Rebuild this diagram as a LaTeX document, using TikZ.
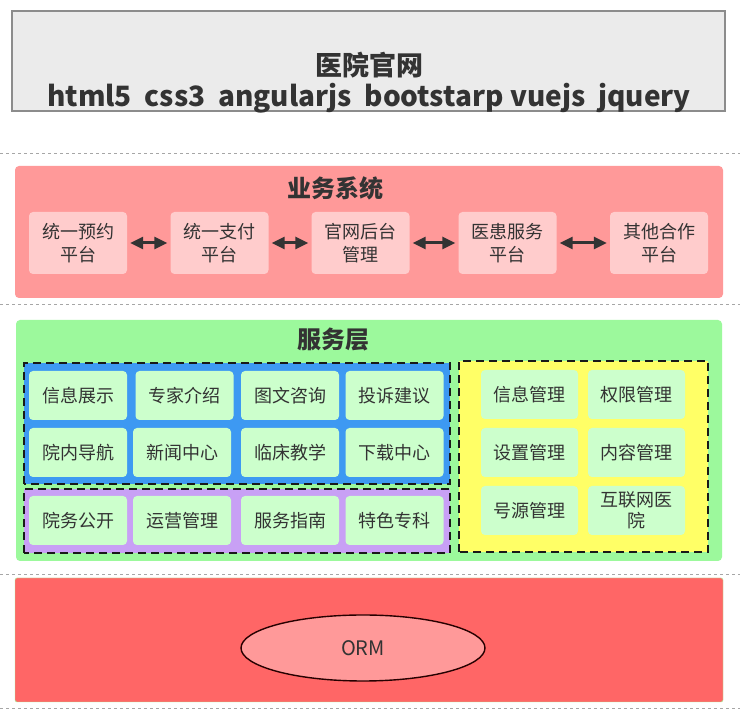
\documentclass[tikz,border=0pt]{standalone}
\usepackage{fontspec}
\setmainfont{Noto Sans CJK SC}
\usetikzlibrary{arrows.meta,positioning,shapes.geometric}

\begin{document}
\begin{tikzpicture}[x=1pt,y=1pt]
\definecolor{web fill}{HTML}{EBEBEB}
\definecolor{web edge}{HTML}{8C8C8C}
\definecolor{biz fill}{HTML}{FF9999}
\definecolor{biz item}{HTML}{FFCCCC}
\definecolor{svc fill}{HTML}{9CF99C}
\definecolor{svc item}{HTML}{CCFFCC}
\definecolor{svc blue}{HTML}{3D99F2}
\definecolor{svc purple}{HTML}{C8A0F5}
\definecolor{svc yellow}{HTML}{FFFF66}
\definecolor{orm fill}{HTML}{FF6666}
\definecolor{orm item}{HTML}{FF9999}
\definecolor{ink}{HTML}{333333}
\tikzset{
     layer/.style={rounded corners=4pt},
     title/.style={font=\bfseries\fontsize{24}{28}\selectfont, text=ink},
     bizbox/.style={fill=biz item, rounded corners=4pt, minimum width=98pt, minimum height=62pt,
       align=center, text=ink, font=\fontsize{18}{23}\selectfont},
     svcbox/.style={fill=svc item, rounded corners=4pt, minimum width=98pt, minimum height=49pt,
       align=center, text=ink, font=\fontsize{18}{21}\selectfont},
     group/.style={draw=black!90, line width=2pt, dash pattern=on 8pt off 5pt},
     split/.style={draw=gray!70, dashed, thin},
     link/.style={{Triangle[length=13pt,width=12pt]}-{Triangle[length=13pt,width=12pt]},
       line width=3pt, draw=ink, shorten <=3pt, shorten >=3pt}}

\useasboundingbox (0,0) rectangle (740,720);
\fill[white] (0,0) rectangle (740,720);

% The separators
\foreach \y in {567,416,146,12}
  \draw[split] (0,\y) -- (740,\y);

% The website
\draw[fill=web fill, draw=web edge, line width=1.5pt] (12,609) rectangle (725,709);
\node (webname) [title, font=\bfseries\fontsize{27}{30}\selectfont] at (369,655) {医院官网};
\node (webtech) [title, font=\bfseries\fontsize{28}{30}\selectfont] at (369,622)
  {html5\ \ css3\ \ angularjs\ \ bootstarp vuejs\ \ jquery};

% The business systems
\fill[biz fill, layer] (15,422) rectangle (723,554);
\node (biztitle) [title] at (335,532) {业务系统};
\node (booking) [bizbox] at (78,477)    {统一预约\\平台};
\node (payment) [bizbox] at (219.5,477) {统一支付\\平台};
\node (backend) [bizbox] at (360.5,477) {官网后台\\管理};
\node (patient) [bizbox] at (507.5,477) {医患服务\\平台};
\node (partner) [bizbox] at (659,477)   {其他合作\\平台};
\foreach \a/\b in {booking/payment,payment/backend,backend/patient,patient/partner}
  \draw[link] (\a.east) -- (\b.west);

% The service layer
\fill[svc fill, layer] (16,159) rectangle (722,400);
\node (svctitle) [title] at (333,380) {服务层};

\draw[group, fill=svc blue] (24,236) rectangle (450,357);
\draw[group, fill=svc purple] (24,167) rectangle (450,231);
\draw[group, fill=svc yellow] (459,168) rectangle (708,359);

\node (infoshow)  [svcbox] at (78,324.5)    {信息展示};
\node (experts)   [svcbox] at (184.5,324.5) {专家介绍};
\node (consult)   [svcbox] at (290,324.5)   {图文咨询};
\node (complain)  [svcbox] at (394.5,324.5) {投诉建议};
\node (guide)     [svcbox] at (78,267.5)    {院内导航};
\node (news)      [svcbox] at (182,267.5)   {新闻中心};
\node (teaching)  [svcbox] at (290,267.5)   {临床教学};
\node (download)  [svcbox] at (394.5,267.5) {下载中心};

\node (affairs)   [svcbox] at (78,199.5)    {院务公开};
\node (operation) [svcbox] at (182,199.5)   {运营管理};
\node (svcguide)  [svcbox] at (290,199.5)   {服务指南};
\node (special)   [svcbox] at (394.5,199.5) {特色专科};

\node (infomgr)   [svcbox, minimum width=97pt] at (529.5,325.5) {信息管理};
\node (rightmgr)  [svcbox, minimum width=97pt] at (636.5,325.5) {权限管理};
\node (setmgr)    [svcbox, minimum width=97pt] at (529.5,267.5) {设置管理};
\node (contentmgr)[svcbox, minimum width=97pt] at (636.5,267.5) {内容管理};
\node (sourcemgr) [svcbox, minimum width=97pt] at (529.5,209.5) {号源管理};
\node (online)    [svcbox, minimum width=97pt] at (636.5,209.5) {互联网医\\院};

% The data layer
\draw[fill=orm fill, draw=green!40, layer, rounded corners=2pt] (15,18) rectangle (723,142);
\node (orm) [ellipse, draw=black!85!red, line width=1.4pt, fill=orm item, minimum width=244pt,
  minimum height=66pt, text=ink, font=\fontsize{20}{24}\selectfont] at (363,72) {ORM};
\end{tikzpicture}
\end{document}
